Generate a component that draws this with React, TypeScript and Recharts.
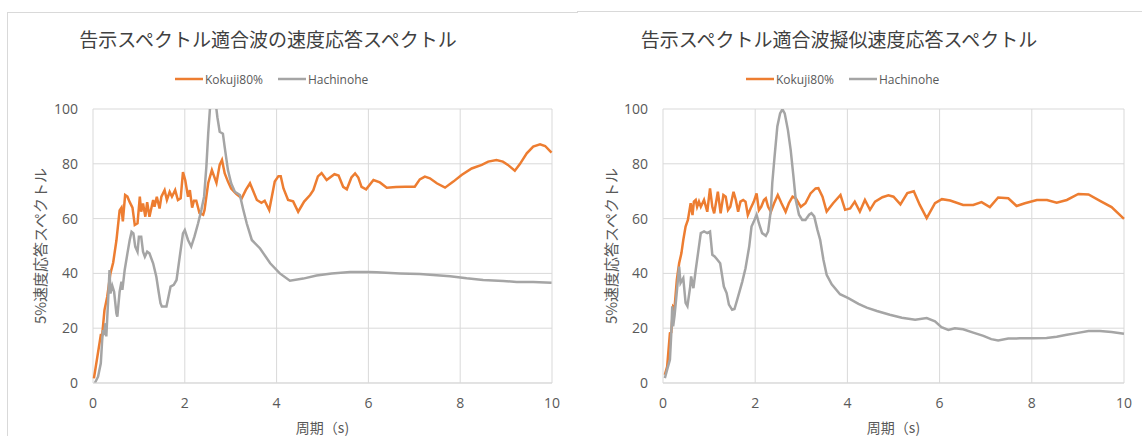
import { CartesianGrid, Legend, Line, LineChart, XAxis, YAxis } from "recharts";

const PERIOD_TICKS = [0, 2, 4, 6, 8, 10];
const SPECTRUM_TICKS = [0, 20, 40, 60, 80, 100];
const SERIES_NAMES = ["Kokuji80%", "Hachinohe"];
const PANEL_TITLES = ["告示スペクトル適合波の速度応答スペクトル", "告示スペクトル適合波擬似速度応答スペクトル"];
const X_TITLE = "周期（s)";
const Y_TITLE = "5%速度応答スペクトル";

// [period (s), response]
const kokujiVelocity: [number, number][] = [
  [0.02, 1.7], [0.17, 17.5], [0.2, 17.5], [0.25, 26.6], [0.31, 31.5], [0.38, 40], [0.44, 44],
  [0.51, 52], [0.58, 63], [0.62, 64], [0.65, 59], [0.7, 68.6], [0.75, 68], [0.8, 66], [0.86, 64],
  [0.91, 57.7], [0.97, 58.3], [1.02, 68], [1.05, 62.5], [1.09, 65.5], [1.14, 60.7], [1.18, 66],
  [1.23, 60.7], [1.31, 66.8], [1.34, 64.3], [1.39, 68], [1.45, 63.7], [1.49, 68], [1.56, 70.4],
  [1.61, 66.8], [1.67, 69.8], [1.72, 68], [1.79, 70.4], [1.85, 66.8], [1.91, 67.4], [1.96, 77],
  [2.01, 74], [2.07, 68], [2.11, 70.4], [2.16, 64], [2.2, 66.5], [2.25, 66.5], [2.32, 62],
  [2.4, 61.4], [2.43, 63.1], [2.51, 73], [2.59, 77.7], [2.69, 73], [2.76, 79.6], [2.81, 81.4],
  [2.87, 76.5], [2.94, 73.5], [3.01, 71], [3.12, 69], [3.24, 67.4], [3.33, 70.5], [3.42, 72.9],
  [3.57, 66.8], [3.67, 65.8], [3.74, 66.5], [3.84, 63.1], [3.96, 73.5], [4.04, 75.5], [4.09, 75.5],
  [4.15, 71], [4.25, 66.8], [4.36, 66.3], [4.47, 62.5], [4.6, 66.2], [4.73, 68.6], [4.8, 70.4],
  [4.9, 75.4], [4.98, 76.6], [5.09, 74.1], [5.26, 76.2], [5.35, 75.7], [5.45, 71.6], [5.53, 70.7],
  [5.63, 75], [5.71, 76.5], [5.78, 75], [5.85, 71.6], [5.95, 70.7], [6.11, 74.1], [6.25, 73.2],
  [6.4, 71.3], [6.6, 71.5], [6.8, 71.6], [7.01, 71.6], [7.12, 74.3], [7.23, 75.3], [7.34, 74.7],
  [7.49, 72.9], [7.67, 71.3], [7.85, 73.5], [8.03, 75.9], [8.25, 78.3], [8.47, 79.6], [8.61, 80.8],
  [8.79, 81.4], [8.93, 80.8], [9.04, 79.6], [9.19, 77.5], [9.3, 79.9], [9.45, 83.8], [9.59, 86.3],
  [9.74, 87.1], [9.85, 86.5], [9.99, 84.1],
];

const hachinoheVelocity: [number, number][] = [
  [0.04, 0], [0.11, 2.3], [0.17, 7.2], [0.2, 15.7], [0.22, 19.3], [0.24, 17.5], [0.27, 21.8],
  [0.29, 17], [0.33, 30.3], [0.36, 41.2], [0.38, 32.7], [0.42, 35.5], [0.46, 33.3], [0.51, 25.4],
  [0.53, 24.2], [0.58, 33.3], [0.62, 37], [0.64, 34], [0.69, 41.2], [0.75, 47.3], [0.8, 52.2],
  [0.84, 55.2], [0.88, 54.6], [0.92, 49.8], [0.97, 47.9], [1.0, 53.4], [1.05, 53.4], [1.09, 47.9],
  [1.13, 46.1], [1.18, 47.9], [1.23, 47.3], [1.31, 43.7], [1.38, 38.8], [1.43, 33.3], [1.47, 29.1],
  [1.5, 27.9], [1.6, 27.9], [1.63, 30.3], [1.69, 35.2], [1.76, 35.8], [1.82, 37.6], [1.89, 46.1],
  [1.96, 54.6], [2.0, 55.8], [2.07, 52.2], [2.14, 49.8], [2.21, 53.4], [2.29, 58.3], [2.36, 63.1],
  [2.42, 68], [2.47, 79], [2.51, 91], [2.56, 103], [2.61, 110], [2.66, 104], [2.71, 97],
  [2.76, 91.7], [2.83, 91], [2.87, 86], [2.94, 77.7], [3.01, 72.9], [3.09, 69.8], [3.2, 68.6],
  [3.27, 63.5], [3.35, 58.2], [3.46, 52.2], [3.64, 49.1], [3.86, 43.7], [4.07, 40], [4.29, 37.3],
  [4.58, 38.1], [4.87, 39.2], [5.2, 40], [5.6, 40.5], [6.0, 40.5], [6.18, 40.4], [6.69, 40],
  [7.12, 39.8], [7.78, 39], [8.14, 38.2], [8.5, 37.6], [8.94, 37.2], [9.23, 36.9], [9.59, 36.9],
  [9.99, 36.6],
];

// [period (s), response]
const kokujiPseudo: [number, number][] = [
  [0.04, 3], [0.09, 6], [0.15, 18.2], [0.18, 18.5], [0.22, 27.9], [0.25, 27.3], [0.3, 37.6],
  [0.35, 43.7], [0.4, 47.4], [0.44, 52.2], [0.49, 57.1], [0.54, 59.5], [0.6, 65.6], [0.64, 61.3],
  [0.67, 66.2], [0.71, 66.8], [0.74, 64.3], [0.78, 66.2], [0.82, 64.3], [0.89, 66.8], [0.96, 62.5],
  [1.02, 71], [1.07, 64.3], [1.11, 61.9], [1.19, 69.8], [1.25, 61.9], [1.31, 68.6], [1.36, 68],
  [1.41, 63.1], [1.46, 64.3], [1.53, 69.8], [1.58, 66.8], [1.63, 62.5], [1.68, 66.2], [1.74, 66.8],
  [1.79, 66.2], [1.84, 61.3], [1.9, 63.7], [1.97, 66.2], [2.03, 69.2], [2.08, 63.1], [2.13, 64.3],
  [2.19, 66.8], [2.23, 67.4], [2.28, 64.3], [2.34, 62.5], [2.41, 65.6], [2.49, 68.6], [2.57, 65.6],
  [2.66, 62.5], [2.73, 65.6], [2.81, 68], [2.88, 67.4], [2.99, 64.3], [3.09, 65.6], [3.2, 69.2],
  [3.31, 71], [3.37, 71.1], [3.46, 68], [3.55, 62.6], [3.69, 65.6], [3.85, 68.6], [3.95, 63.2],
  [4.06, 63.7], [4.16, 66.2], [4.27, 62.6], [4.38, 66.8], [4.49, 63.2], [4.6, 66.2], [4.76, 67.8],
  [4.89, 68.5], [5.0, 68], [5.15, 65.2], [5.3, 69.3], [5.44, 70], [5.57, 65], [5.72, 60.2],
  [5.9, 65.6], [6.05, 67.1], [6.23, 66.6], [6.51, 65], [6.73, 65], [6.91, 66], [7.09, 64.2],
  [7.27, 67.7], [7.49, 67.4], [7.67, 64.6], [7.85, 65.6], [8.11, 66.8], [8.33, 66.8], [8.54, 65.8],
  [8.76, 66.8], [9.01, 69], [9.23, 68.8], [9.48, 66.5], [9.73, 64.2], [10.0, 59.9],
];

const hachinohePseudo: [number, number][] = [
  [0.04, 1.8], [0.09, 4.9], [0.15, 8.5], [0.18, 18.2], [0.2, 28], [0.22, 20.7], [0.25, 24.5],
  [0.27, 28], [0.31, 35.2], [0.35, 42.5], [0.38, 36.5], [0.44, 38.3], [0.49, 29.2], [0.53, 28],
  [0.59, 35.2], [0.61, 38.9], [0.66, 34.6], [0.71, 41.3], [0.76, 47.4], [0.82, 54.7], [0.89, 55.3],
  [0.96, 54.7], [1.02, 55.3], [1.07, 46.8], [1.12, 46.2], [1.18, 45], [1.24, 43.7], [1.32, 35.2],
  [1.38, 32.8], [1.43, 28.6], [1.5, 26.7], [1.55, 27], [1.61, 30.4], [1.67, 34], [1.72, 37],
  [1.79, 41.9], [1.87, 49.8], [1.92, 57.1], [1.97, 58.9], [2.03, 61.4], [2.08, 58.3], [2.15, 54.7],
  [2.23, 53.7], [2.28, 55.3], [2.34, 63.2], [2.37, 72.9], [2.42, 82.6], [2.48, 93.6], [2.54, 98.4],
  [2.59, 99.9], [2.64, 98.4], [2.71, 92.3], [2.77, 85], [2.83, 75.3], [2.88, 66.8], [2.95, 61.4],
  [3.02, 59.5], [3.09, 59.5], [3.17, 61.4], [3.22, 62], [3.28, 60.8], [3.35, 55.9], [3.41, 52.2],
  [3.48, 45], [3.55, 39.5], [3.66, 36], [3.84, 32.4], [4.02, 31], [4.24, 28.9], [4.42, 27.5],
  [4.64, 26.3], [4.92, 24.9], [5.18, 23.8], [5.47, 23.1], [5.72, 23.7], [5.9, 22.5], [6.04, 20.4],
  [6.19, 19.4], [6.33, 20], [6.51, 19.6], [6.73, 18.4], [6.95, 17.2], [7.12, 16], [7.27, 15.5],
  [7.49, 16.2], [7.74, 16.3], [8.03, 16.3], [8.32, 16.4], [8.54, 16.9], [8.76, 17.6], [8.97, 18.2],
  [9.23, 19], [9.48, 19], [9.73, 18.6], [10.0, 18],
];

const ORANGE = "#ED7D31";
const GRAY = "#A5A5A5";
const TEXT = "#595959";
const GRID = "#D9D9D9";
const LATIN = "'Open Sans', 'Noto Sans CJK JP', sans-serif";
const CJK = "'Noto Sans CJK JP', sans-serif";

const toPoints = (pairs: [number, number][]) => pairs.map(([t, v]) => ({ t, v }));

function YTitle({ viewBox }: any) {
  const cx = (viewBox?.x ?? 0) + 39;
  const cy = (viewBox?.y ?? 109) + (viewBox?.height ?? 274) / 2;
  return (
    <text
      x={cx}
      y={cy}
      transform={`rotate(-90 ${cx} ${cy})`}
      textAnchor="middle"
      dominantBaseline="central"
      fill={TEXT}
      fontSize={15}
      fontFamily={CJK}
    >
      {Y_TITLE}
    </text>
  );
}

function LegendRow() {
  const colors = [ORANGE, GRAY];
  return (
    <div style={{ display: "flex", alignItems: "center", height: 16, fontFamily: LATIN, fontSize: 12, color: TEXT }}>
      {SERIES_NAMES.map((name, i) => (
        <div key={name} style={{ display: "flex", alignItems: "center", marginRight: 15 }}>
          <svg width={28} height={6} style={{ marginRight: 2 }}>
            <line x1={0} y1={3} x2={28} y2={3} stroke={colors[i]} strokeWidth={2.5} />
          </svg>
          <span>{name}</span>
        </div>
      ))}
    </div>
  );
}

interface PanelProps {
  title: string;
  kokuji: [number, number][];
  hachinohe: [number, number][];
  axisWidth: number;
  rightGap: number;
}

function SpectrumPanel({ title, kokuji, hachinohe, axisWidth, rightGap }: PanelProps) {
  return (
    <div style={{ position: "relative", width: 571, height: 436 }}>
      <div
        style={{
          position: "absolute",
          top: 26,
          left: 0,
          width: 536,
          textAlign: "center",
          fontFamily: CJK,
          fontSize: 19,
          lineHeight: "26px",
          color: "#404040",
        }}
      >
        {title}
      </div>
      <LineChart width={571} height={436} margin={{ top: 109, right: rightGap, bottom: 0, left: 0 }}>
        <CartesianGrid stroke={GRID} strokeWidth={1} />
        <XAxis
          type="number"
          dataKey="t"
          domain={[0, 10]}
          ticks={PERIOD_TICKS}
          height={53}
          tickLine={false}
          tickSize={0}
          tickMargin={15}
          axisLine={{ stroke: GRID }}
          tick={{ fill: TEXT, fontSize: 14, fontFamily: LATIN }}
          label={{ value: X_TITLE, position: "insideBottom", offset: 3, fill: TEXT, fontSize: 14, fontFamily: CJK }}
        />
        <YAxis
          type="number"
          domain={[0, 100]}
          ticks={SPECTRUM_TICKS}
          allowDataOverflow
          width={axisWidth}
          tickLine={false}
          tickSize={0}
          tickMargin={15}
          axisLine={false}
          tick={{ fill: TEXT, fontSize: 14, fontFamily: LATIN }}
          label={<YTitle />}
        />
        <Legend
          verticalAlign="middle"
          align="center"
          wrapperStyle={{ top: 71, left: 175, width: 260, height: 16 }}
          content={() => <LegendRow />}
        />
        <Line
          data={toPoints(kokuji)}
          dataKey="v"
          name={SERIES_NAMES[0]}
          type="linear"
          stroke={ORANGE}
          strokeWidth={2.5}
          dot={false}
          isAnimationActive={false}
        />
        <Line
          data={toPoints(hachinohe)}
          dataKey="v"
          name={SERIES_NAMES[1]}
          type="linear"
          stroke={GRAY}
          strokeWidth={2.5}
          dot={false}
          isAnimationActive={false}
        />
      </LineChart>
    </div>
  );
}

export default function App() {
  return (
    <div style={{ position: "absolute", top: 0, left: 0, width: 1142, height: 436, overflow: "hidden", background: "#fff" }}>
      <div style={{ position: "absolute", left: 7, top: 12, width: 570, height: 500, borderLeft: `1px solid ${GRID}`, borderTop: `1px solid ${GRID}` }} />
      <div style={{ position: "absolute", left: 577, top: 11, width: 600, height: 0, borderTop: `1px solid ${GRID}` }} />
      <div style={{ position: "absolute", left: 0, top: 0 }}>
        <SpectrumPanel title={PANEL_TITLES[0]} kokuji={kokujiVelocity} hachinohe={hachinoheVelocity} axisWidth={93} rightGap={19} />
      </div>
      <div style={{ position: "absolute", left: 571, top: 0 }}>
        <SpectrumPanel title={PANEL_TITLES[1]} kokuji={kokujiPseudo} hachinohe={hachinohePseudo} axisWidth={92} rightGap={18} />
      </div>
    </div>
  );
}
